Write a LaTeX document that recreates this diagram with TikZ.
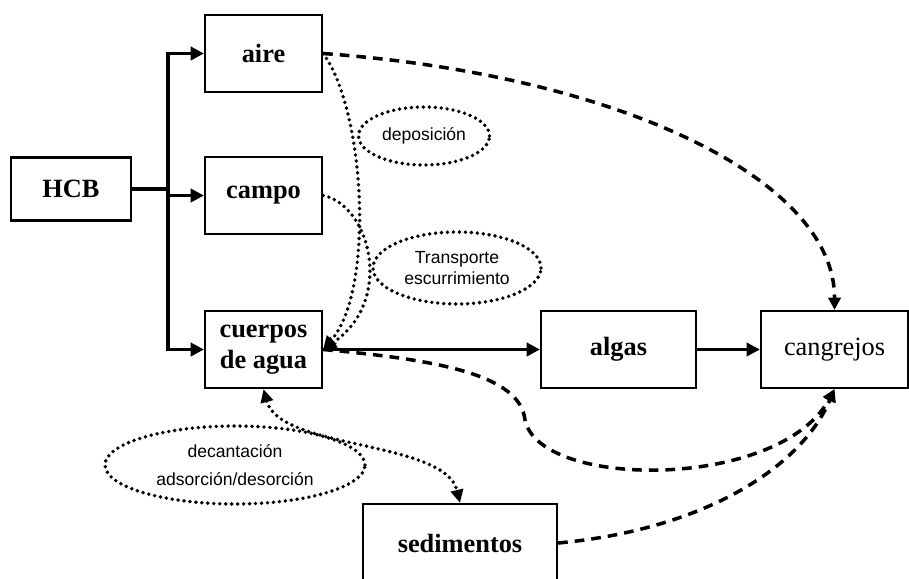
\documentclass[tikz,border=0pt]{standalone}
\usepackage{fontspec}
\setmainfont{Liberation Serif}
\setsansfont{Liberation Sans}
\usetikzlibrary{arrows.meta,shapes.geometric}

\begin{document}
\begin{tikzpicture}[x=0.02cm,y=-0.02cm,
  caja/.style={draw,line width=1.3pt,inner sep=0pt,align=center,
    minimum width=2.34cm,minimum height=1.54cm,
    font=\fontsize{15}{18}\selectfont\bfseries},
  nube/.style={ellipse,draw,line width=2.2pt,line cap=round,
    dash pattern=on 0pt off 3.4pt,inner sep=0pt,align=center,
    font=\sffamily\fontsize{10}{12}\selectfont},
  flecha/.style={line width=2pt,line cap=rect,-{Triangle[length=7.5pt,width=7.5pt]}},
  punteada/.style={line width=2.2pt,line cap=round,dash pattern=on 0pt off 3.4pt,
    -{Triangle[length=7.5pt,width=7pt]}},
  rayada/.style={line width=2pt,dash pattern=on 5.5pt off 4pt,
    -{Triangle[length=7pt,width=7pt]}}]
\useasboundingbox (0,0) rectangle (909,578);

\node[caja,minimum width=2.4cm,minimum height=1.26cm] (HCB) at (71,189) {HCB};
\node[caja] (aire) at (263.5,53.5) {aire};
\node[caja] (campo) at (263.5,195.5) {campo};
\node[caja] (agua) at (263.5,349.5) {cuerpos\\de agua};
\node[caja,minimum width=3.1cm] (algas) at (618.5,349.5) {algas};
\node[caja,minimum width=2.94cm,font=\fontsize{15}{18}\selectfont] (cangrejos) at (834.5,349.5) {cangrejos};
\node[caja,minimum width=3.88cm,minimum height=1.56cm] (sedimentos) at (460,543) {sedimentos};

\node[nube,minimum width=2.62cm,minimum height=1.16cm] (depos) at (424,136) {deposición};
\node[nube,minimum width=3.36cm,minimum height=1.44cm] (transp) at (457,268) {Transporte\\escurrimiento};
\node[nube,minimum width=5.2cm,minimum height=1.56cm] (decant) at (235,465) {decantación\\[4pt]adsorción/desorción};

\coordinate (T) at (168,189);

% ramas desde HCB
\draw[line width=2pt,line cap=rect] (HCB.east) -- (T);
\draw[flecha] (agua.west -| T) |- (aire.west);
\draw[flecha] (campo.west -| T) -- (campo.west);
\draw[flecha] (aire.west -| T) |- (agua.west);

% cadena trofica
\draw[flecha] (agua.east) -- (algas.west);
\draw[flecha,line width=1.6pt] (algas.east) -- (cangrejos.west);

% transporte hacia el agua
\draw[punteada] (aire.east) .. controls (365,110) and (375,290) .. (agua.east);
\draw[punteada] (campo.east) .. controls (370,205) and (395,300) .. (agua.east);
\draw[punteada,{Triangle[length=7.5pt,width=7pt]}-{Triangle[length=7.5pt,width=7pt]}]
  (agua.south) .. controls (280,450) and (445,440) .. (sedimentos.north);

% bioacumulacion
\draw[rayada] (aire.east) .. controls (620,75) and (835,180) .. (cangrejos.north);
\draw[rayada] (agua.east) .. controls (440,360) and (520,375) .. (525,420)
  .. controls (540,490) and (780,490) .. (cangrejos.south);
\draw[rayada] (sedimentos.east) .. controls (700,530) and (800,470) .. (cangrejos.south);

\end{tikzpicture}
\end{document}
